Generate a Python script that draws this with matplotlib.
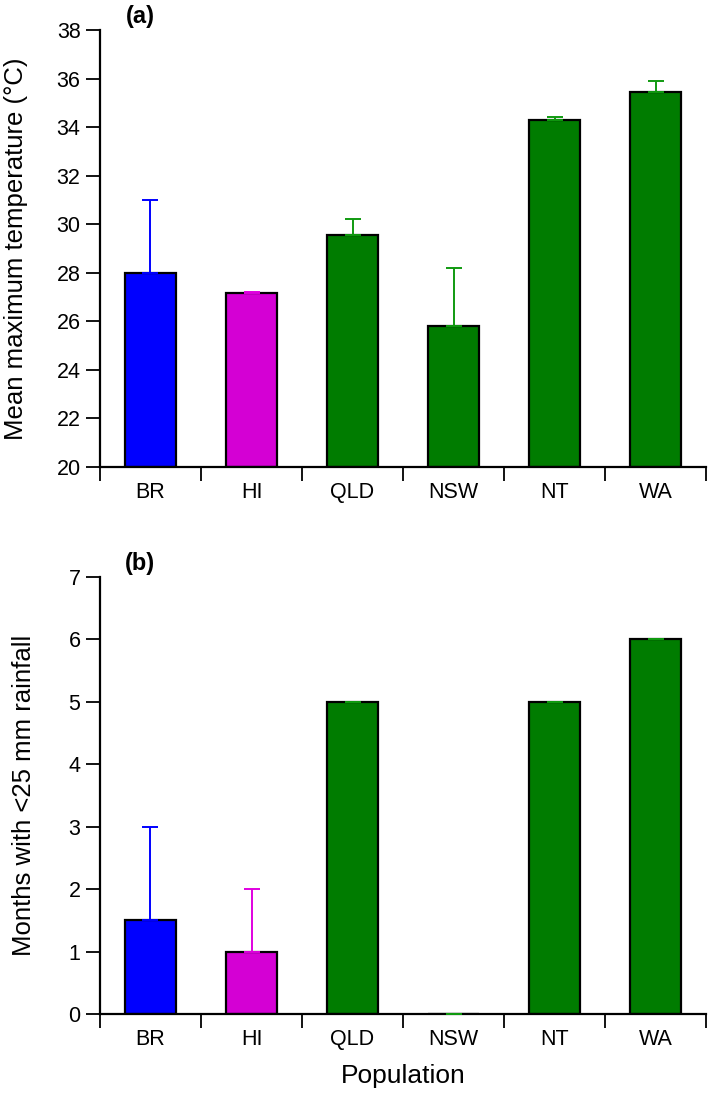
import matplotlib
matplotlib.use("Agg")
import matplotlib.pyplot as plt
import numpy as np

plt.rcParams['font.family'] = ['Liberation Sans', 'DejaVu Sans']

populations = ["BR", "HI", "QLD", "NSW", "NT", "WA"]
bar_colors = ["#0000ff", "#d400d4", "#007c00", "#007c00", "#007c00", "#007c00"]
err_colors = ["#0000ff", "#e000e0", "#109a10", "#109a10", "#109a10", "#109a10"]

temp_mean = [28.0, 27.15, 29.55, 25.8, 34.3, 35.45]
temp_err = [3.0, 0.05, 0.65, 2.4, 0.1, 0.45]

dry_months = [1.5, 1.0, 5.0, 0.0, 5.0, 6.0]
dry_err = [1.5, 1.0, 0.0, 0.0, 0.0, 0.0]

fig = plt.figure(figsize=(7.09, 11.01), dpi=100)
ax1 = fig.add_axes([0.141, 0.5758, 0.855, 0.397])
ax2 = fig.add_axes([0.141, 0.079, 0.855, 0.397])

def draw(ax, vals, errs, ylim, yticks, ylabel, tag):
    x = np.arange(len(populations))
    ax.bar(x, [v - ylim[0] for v in vals], bottom=ylim[0], width=0.5,
           color=bar_colors, edgecolor="black", linewidth=1.6, zorder=2)
    for i in range(len(x)):
        ax.errorbar(x[i], vals[i], yerr=[[0], [errs[i]]], fmt="none",
                    ecolor=err_colors[i], elinewidth=1.4, capsize=5.5,
                    capthick=1.4, zorder=3)
    ax.set_xlim(-0.5, len(x) - 0.5)
    ax.set_ylim(*ylim)
    ax.set_yticks(yticks)
    ax.set_xticks(np.arange(-0.5, len(x), 1.0))
    ax.set_xticklabels([])
    ax.set_xticks(x, minor=True)
    ax.set_xticklabels(populations, minor=True)
    ax.tick_params(axis="x", which="major", direction="out", length=10, width=1.3)
    ax.tick_params(axis="x", which="minor", length=0, labelsize=15.5, pad=11)
    ax.tick_params(axis="y", direction="out", length=10, width=1.3, labelsize=15.5, pad=4)
    for s in ["top", "right"]:
        ax.spines[s].set_visible(False)
    for s in ["left", "bottom"]:
        ax.spines[s].set_linewidth(1.6)
    ax.set_ylabel(ylabel, fontsize=18.5)
    ax.text(0.066, 1.005, tag, transform=ax.transAxes, fontsize=17,
            fontweight="bold", ha="center", va="bottom")

draw(ax1, temp_mean, temp_err, (20, 38), np.arange(20, 39, 2),
     "Mean maximum temperature (°C)", "(a)")
draw(ax2, dry_months, dry_err, (0, 7), np.arange(0, 8, 1),
     "Months with <25 mm rainfall", "(b)")
ax1.yaxis.set_label_coords(-0.118, 0.5)
ax2.yaxis.set_label_coords(-0.106, 0.5)
ax2.set_xlabel("Population", fontsize=19)
ax2.xaxis.set_label_coords(0.5, -0.114)

fig.savefig("out.png", dpi=100)
